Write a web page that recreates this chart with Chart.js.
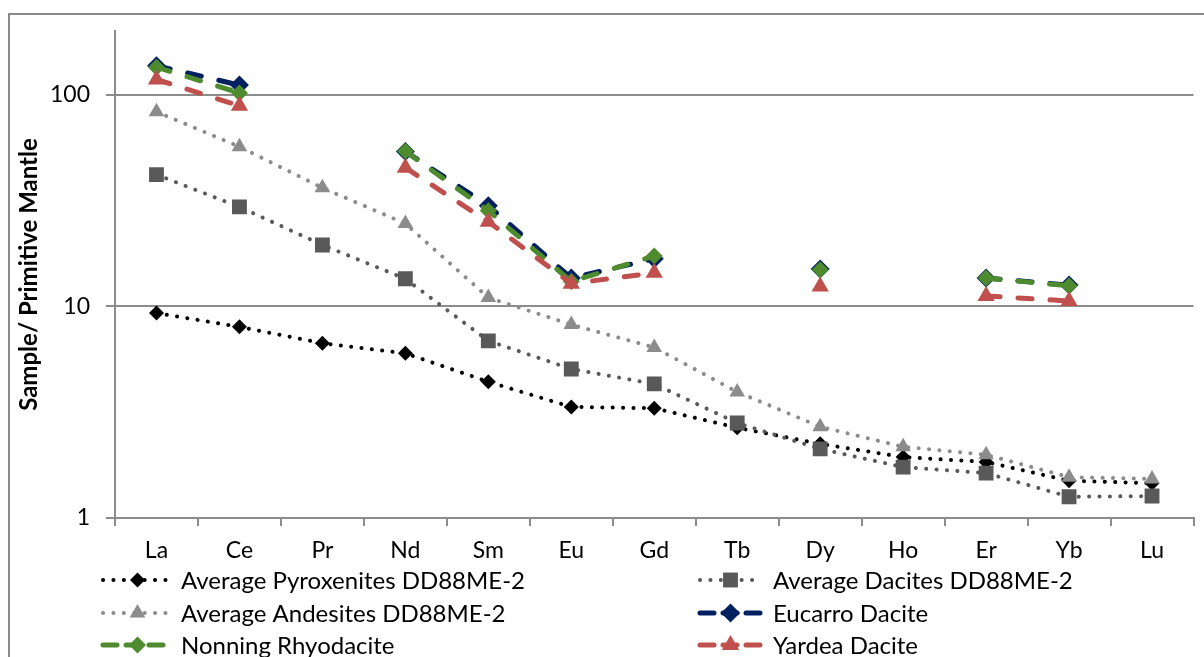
<!DOCTYPE html>
<html>
<head>
<meta charset="utf-8">
<script src="https://cdn.jsdelivr.net/npm/chart.js@4/dist/chart.umd.min.js"></script>
<style>
  html, body { margin: 0; padding: 0; background: #fff; overflow: hidden; }
  #chartReport { width: 1204px; height: 657px; overflow: hidden; }
</style>
</head>
<body>
<div id="chartReport"><canvas id="chart" width="1204" height="700"></canvas></div>
<script>
const elements = ["La", "Ce", "Pr", "Nd", "Sm", "Eu", "Gd", "Tb", "Dy", "Ho", "Er", "Yb", "Lu"];
const yTicks = [1, 10, 100];

const pyroxenites = [9.3, 8.0, 6.7, 6.0, 4.4, 3.35, 3.3, 2.67, 2.24, 1.94, 1.84, 1.5, 1.46];
const dacites = [41.9, 29.5, 19.5, 13.5, 6.87, 5.06, 4.3, 2.81, 2.12, 1.74, 1.63, 1.26, 1.27];
const andesites = [83, 56.8, 36.3, 24.6, 11, 8.2, 6.4, 3.94, 2.7, 2.17, 1.99, 1.56, 1.53];
const eucarro = [137, 111, null, 53.9, 29.9, 13.6, 16.8, null, 15, null, 13.6, 12.6, null];
const nonning = [135, 102, null, 54, 28.3, 13.1, 17.3, null, 14.9, null, 13.6, 12.5, null];
const yardea = [118, 88.7, null, 45.2, 25.1, 12.8, 14.4, null, 12.4, null, 11.2, 10.6, null];

const font = "Lato, 'Open Sans', sans-serif";
const axisGray = "#8c8c8c";

function series(label, values, color, shape, radius, dotted) {
  return {
    label: label,
    data: values,
    borderColor: color,
    backgroundColor: color,
    borderWidth: dotted ? 4 : 5,
    borderDash: dotted ? [0.1, 10.3] : [14, 18],
    borderCapStyle: "round",
    pointStyle: shape,
    pointRadius: radius,
    pointHoverRadius: radius,
    pointBorderWidth: 0,
    pointBorderColor: color,
    spanGaps: false,
    tension: 0,
    fill: false,
  };
}

const datasets = [
  series("Average Pyroxenites DD88ME-2", pyroxenites, "#000000", "rectRot", 7.5, true),
  series("Average Dacites DD88ME-2", dacites, "#595959", "rect", 10.5, true),
  series("Average Andesites DD88ME-2", andesites, "#8c8c8c", "triangle", 9, true),
  series("Eucarro Dacite", eucarro, "#002060", "rectRot", 9.5, false),
  series("Nonning Rhyodacite", nonning, "#4e8a2e", "rectRot", 8.5, false),
  series("Yardea Dacite", yardea, "#c0504d", "triangle", 10, false),
];
// later series on top, like the original
datasets.forEach((d, i) => (d.order = datasets.length - i));

function marker(ctx, shape, r, x, y, color) {
  ctx.save();
  ctx.fillStyle = color;
  ctx.beginPath();
  if (shape === "rectRot") {
    ctx.moveTo(x - r, y);
    ctx.lineTo(x, y - r);
    ctx.lineTo(x + r, y);
    ctx.lineTo(x, y + r);
  } else if (shape === "rect") {
    const s = Math.SQRT1_2 * r;
    ctx.rect(x - s, y - s, 2 * s, 2 * s);
  } else {
    ctx.moveTo(x, y - r);
    ctx.lineTo(x + r * 0.866, y + r * 0.5);
    ctx.lineTo(x - r * 0.866, y + r * 0.5);
  }
  ctx.closePath();
  ctx.fill();
  ctx.restore();
}

const frameAndLegend = {
  id: "frameAndLegend",
  beforeDraw(chart) {
    const ctx = chart.ctx;
    ctx.save();
    ctx.fillStyle = "#fff";
    ctx.fillRect(0, 0, chart.width, chart.height);
    ctx.strokeStyle = "#8a8a8a";
    ctx.lineWidth = 2;
    ctx.strokeRect(9, 14, 1240, 740);
    ctx.restore();
  },
  afterDraw(chart) {
    const ctx = chart.ctx;
    const cols = [{ x0: 103, x1: 172, tx: 181 }, { x0: 700, x1: 761, tx: 773 }];
    const rows = [580, 613, 645];
    chart.data.datasets.forEach((d, i) => {
      const c = cols[i % 2];
      const y = rows[Math.floor(i / 2)];
      ctx.save();
      ctx.strokeStyle = d.borderColor;
      ctx.lineWidth = d.borderWidth;
      ctx.lineCap = "round";
      ctx.setLineDash(d.borderDash[0] < 1 ? [0.1, 10.3] : [14, 9]);
      ctx.beginPath();
      ctx.moveTo(c.x0, y);
      ctx.lineTo(c.x1, y);
      ctx.stroke();
      ctx.restore();
      marker(ctx, d.pointStyle, d.pointRadius, (c.x0 + c.x1) / 2, y, d.backgroundColor);
      ctx.save();
      ctx.fillStyle = "#000";
      ctx.font = "24px " + font;
      ctx.textBaseline = "middle";
      ctx.fillText(d.label, c.tx, y + 1);
      ctx.restore();
    });
  },
};

const config = {
  type: "line",
  data: { labels: elements, datasets: datasets },
  options: {
    responsive: false,
    animation: false,
    devicePixelRatio: 1,
    layout: { padding: { top: 31, right: 4, bottom: 132, left: 0 } },
    plugins: {
      legend: { display: false },
      tooltip: { enabled: false },
    },
    scales: {
      x: {
        type: "category",
        offset: true,
        afterFit: (s) => { s.height = 50; },
        grid: {
          offset: true,
          drawOnChartArea: false,
          drawTicks: true,
          tickLength: 8,
          color: axisGray,
          lineWidth: 2,
        },
        border: { display: true, color: axisGray, width: 2 },
        ticks: {
          color: "#000",
          font: { family: font, size: 23 },
          padding: 11,
          maxRotation: 0,
          autoSkip: false,
        },
      },
      y: {
        type: "logarithmic",
        min: 1,
        max: 200,
        afterFit: (s) => { s.width = 115; },
        afterBuildTicks: (s) => { s.ticks = yTicks.map((v) => ({ value: v })); },
        grid: {
          color: axisGray,
          lineWidth: 2,
          tickLength: 9,
        },
        border: { display: true, color: axisGray, width: 2 },
        ticks: {
          color: "#000",
          font: { family: font, size: 23 },
          padding: 16,
          callback: (v) => String(v),
        },
        title: {
          display: true,
          text: "Sample/ Primitive Mantle",
          color: "#000",
          font: { family: font, size: 24, weight: "bold" },
          padding: { top: 15, bottom: 0 },
        },
      },
    },
  },
  plugins: [frameAndLegend],
};

new Chart(document.getElementById("chart"), config);
</script>
</body>
</html>
